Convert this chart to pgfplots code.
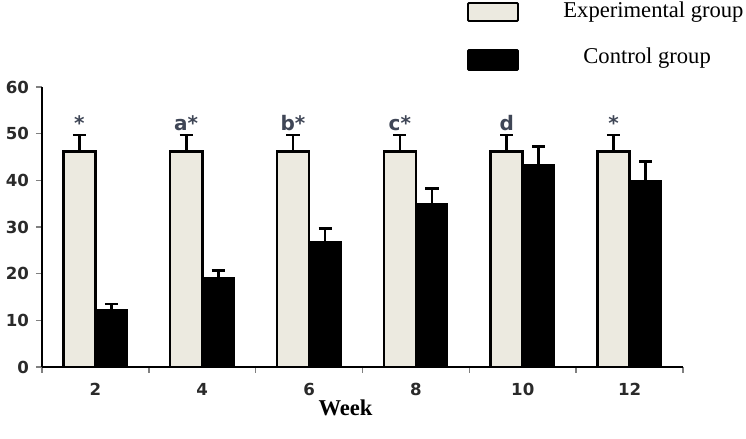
\documentclass[border=0pt]{standalone}
\usepackage{pgfplots}
\pgfplotsset{compat=1.18}
\usepackage{fontspec}
\setmainfont{Liberation Serif}
\newfontfamily\tickfont{DejaVu Sans}
\definecolor{expfill}{HTML}{ECEAE0}
\definecolor{annot}{HTML}{3F4656}
\definecolor{tickc}{HTML}{2A2A2A}
\begin{document}
\begin{tikzpicture}
\useasboundingbox (-21pt,-36pt) rectangle (352pt,183.5pt);
\begin{axis}[
  at={(0,0)}, anchor=south west,
  scale only axis, width=320.5pt, height=140pt,
  xmin=-0.5, xmax=5.5, ymin=0, ymax=60,
  axis lines=left, axis line style={line width=0.8pt, -},
  ytick={0,10,...,60},
  xtick={0,...,5}, xticklabels={2,4,6,8,10,12},
  major x tick style={draw=none},
  minor xtick={-0.5,0.5,...,5.5},
  minor x tick style={line width=0.8pt},
  minor tick length=3pt,
  major y tick style={line width=0.8pt},
  major tick length=3pt,
  tick align=outside,
  ticklabel style={font=\tickfont\bfseries\fontsize{8.3}{9}\selectfont, text=tickc},
  /pgf/number format/assume math mode=true,
  xticklabel style={yshift=-1.5pt},
  yticklabel style={xshift=0pt},
  xlabel={\textbf{Week}}, xlabel style={font=\fontsize{11.3}{13}\selectfont, yshift=5pt, xshift=-8.5pt},
  clip=false,
  error bars/y dir=plus, error bars/y explicit,
  error bars/error bar style={line width=1.3pt, black},
  error bars/error mark options={rotate=90, mark size=3.3pt, line width=1.4pt, black},
]
\addplot[ybar, bar width=0.3, bar shift=0, fill=expfill, draw=black, line width=1.3pt]
  coordinates {(-0.15,46.2) +- (0,3.5) (0.85,46.2) +- (0,3.5) (1.85,46.2) +- (0,3.5) (2.85,46.2) +- (0,3.5) (3.85,46.2) +- (0,3.5) (4.85,46.2) +- (0,3.5)};
\addplot[ybar, bar width=0.3, bar shift=0, fill=black, draw=black, line width=0.5pt]
  coordinates {(0.15,12.4) +- (0,1.1) (1.15,19.2) +- (0,1.4) (2.15,27.0) +- (0,2.7) (3.15,35.0) +- (0,3.3) (4.15,43.3) +- (0,3.9) (5.15,39.9) +- (0,4.1)};
\foreach \i/\t in {0/*,1/a*,2/b*,3/c*,4/d,5/*} {
  \edef\tmp{\noexpand\node[anchor=south, font=\noexpand\tickfont\noexpand\bfseries\noexpand\fontsize{10}{11}\noexpand\selectfont, text=annot, inner sep=0pt] at (axis cs:\i-0.15,50.6) {\t};}
  \tmp
}
\end{axis}
% legend
\draw[line width=0.9pt, fill=expfill, rounded corners=0.5pt] (213pt,173pt) rectangle (238pt,182pt);
\draw[line width=0.9pt, fill=black, rounded corners=0.5pt] (213pt,148.5pt) rectangle (238pt,158.5pt);
\node[anchor=west, font=\fontsize{11.3}{13}\selectfont, inner sep=0pt] at (260.5pt,177.5pt) {Experimental group};
\node[anchor=west, font=\fontsize{11.3}{13}\selectfont, inner sep=0pt] at (270.5pt,154.5pt) {Control group};
\end{tikzpicture}
\end{document}
